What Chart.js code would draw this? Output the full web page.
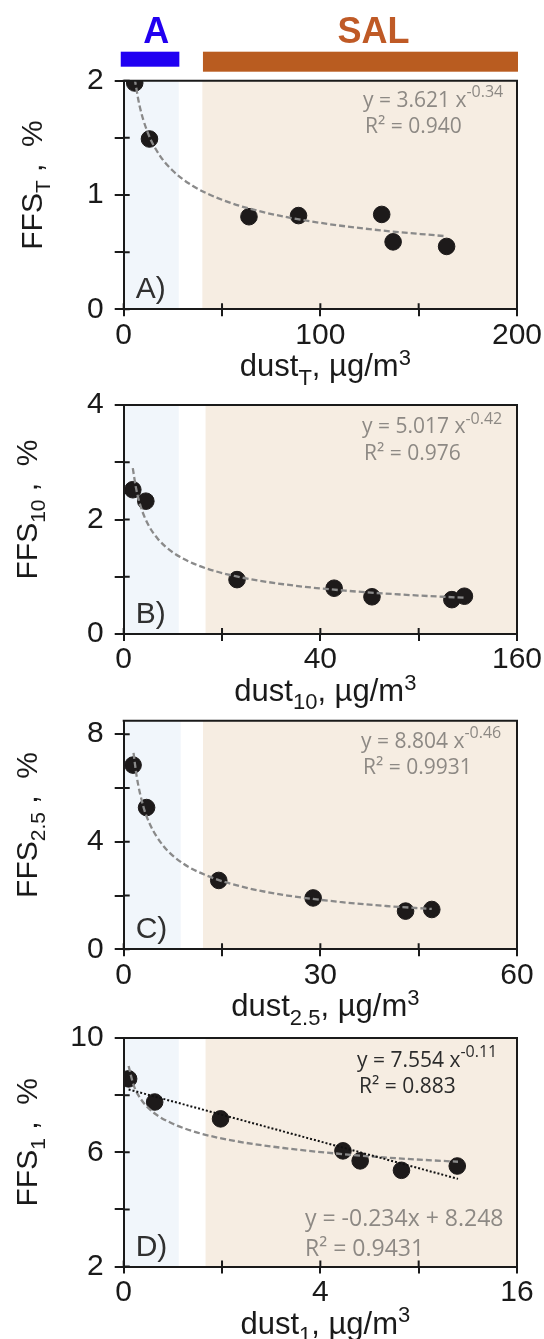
<!DOCTYPE html>
<html><head><meta charset="utf-8">
<script src="https://cdn.jsdelivr.net/npm/chart.js@4.4.1/dist/chart.umd.min.js"></script>
<style>
html,body{margin:0;padding:0;background:#fff;width:544px;height:1339px;overflow:hidden;position:relative;}
canvas{position:absolute;left:0;}
</style></head><body>
<canvas id="cA" width="544" height="400"></canvas>
<canvas id="cB" width="544" height="400"></canvas>
<canvas id="cC" width="544" height="400"></canvas>
<canvas id="cD" width="544" height="400"></canvas>
<script>
// ---------- DATA ----------
// Panel A : total dust
const dustT = [5.6, 13.1, 63.7, 88.9, 131.2, 137.0, 164.2];
const ffsT  = [1.98, 1.49, 0.81, 0.82, 0.83, 0.59, 0.55];
const fitTx = [5.6, 8, 12, 18, 25, 35, 50, 70, 95, 125, 164];
const fitTy = [2.016, 1.786, 1.556, 1.355, 1.212, 1.081, 0.958, 0.854, 0.770, 0.701, 0.639];
// Panel B : dust10
const dust10 = [3.7, 9.0, 46.1, 85.6, 101.0, 133.5, 138.6];
const ffs10  = [2.52, 2.32, 0.95, 0.80, 0.65, 0.60, 0.66];
const fit10x = [3.7, 5, 7, 10, 14, 20, 30, 45, 65, 90, 115, 139];
const fit10y = [2.897, 2.552, 2.216, 1.908, 1.657, 1.426, 1.202, 1.014, 0.869, 0.758, 0.684, 0.632];
// Panel C : dust2.5
const dust25 = [1.43, 3.49, 14.5, 28.9, 43.0, 47.0];
const ffs25  = [6.85, 5.27, 2.56, 1.91, 1.42, 1.48];
const fit25x = [1.5, 2, 3, 4, 6, 9, 13, 18, 25, 33, 40, 47];
const fit25y = [7.30, 6.40, 5.31, 4.65, 3.86, 3.20, 2.71, 2.33, 2.00, 1.76, 1.61, 1.50];
// Panel D : dust1
const dust1 = [0.20, 1.26, 3.94, 8.92, 9.62, 11.30, 13.57];
const ffs1  = [8.57, 7.76, 7.17, 6.05, 5.70, 5.37, 5.52];
const fit1x = [0.2, 0.4, 0.7, 1.2, 2, 3, 4.5, 6.5, 9, 11.5, 13.6];
const fit1y = [9.02, 8.36, 7.86, 7.40, 7.00, 6.69, 6.40, 6.15, 5.93, 5.77, 5.67];
const lin1x = [0.2, 13.6];
const lin1y = [8.20, 5.07];

// axis ranges / ticks / labels
const xTicksA = [0, 50, 100, 150, 200],  xLabelsA = ["0", "", "100", "", "200"];
const yTicksA = [0, 0.5, 1, 1.5, 2],     yLabelsA = ["0", "", "1", "", "2"];
const xTicksB = [0, 40, 80, 120, 160],   xLabelsB = ["0", "", "40", "", "160"];
const yTicksB = [0, 1, 2, 3, 4],         yLabelsB = ["0", "", "2", "", "4"];
const xTicksC = [0, 15, 30, 45, 60],     xLabelsC = ["0", "", "30", "", "60"];
const yTicksC = [0, 2, 4, 6, 8],         yLabelsC = ["0", "", "4", "", "8"];
const xTicksD = [0, 4, 8, 12, 16],       xLabelsD = ["0", "", "4", "", "16"];
const yTicksD = [2, 4, 6, 8, 10],        yLabelsD = ["2", "", "6", "", "10"];
const yMaxC = 8.5;

// shaded periods (x data units): A (blue) and SAL (tan)
const bandA_A = [0, 28],   bandSAL_A = [40, 200];
const bandA_B = [0, 22.4], bandSAL_B = [33.3, 160];
const bandA_C = [0, 8.7],  bandSAL_C = [12.1, 60];
const bandA_D = [0, 2.24], bandSAL_D = [3.33, 16];
// top period bars (panel A x units)
const barA = [-1.5, 28.3], barSAL = [40.3, 200.5];
const labelPosA = 16.5, labelPosSAL = 127;

// ---------- STYLE ----------
const AX = '"Liberation Sans", Arial, Helvetica, sans-serif';
const EQ = '"Open Sans", "Noto Sans", sans-serif';
const INK = '#1a1a1a';
const EQGRAY = '#8d8984';
const LEFT = 123.7, RIGHT = 517;
const XAXIS_H = 70, CANVAS_H = 400;

function xy(xs, ys) { return xs.map((x, i) => ({x: x, y: ys[i]})); }

const panels = [
  {id: 'cA', top: 80.7, bottom: 309.3, xr: [0, 200], yr: [0, 2], xt: xTicksA, xl: xLabelsA, yt: yTicksA, yl: yLabelsA,
   bands: [bandA_A, bandSAL_A], pts: xy(dustT, ffsT), fit: xy(fitTx, fitTy), lin: null,
   ytitle: [{t: 'FFS'}, {t: 'T', sub: 1}, {t: ' ,  %'}], ytx: 42,
   xtitle: [{t: 'dust'}, {t: 'T', sub: 1}, {t: ', µg/m'}, {t: '3', sup: 1}],
   letter: 'A)', eqs: [{x: 363, dy: 26, c: EQGRAY, p: [{t: 'y = 3.621 x'}, {t: '-0.34', sup: 1}]},
                       {x: 365, dy: 52.6, c: EQGRAY, p: [{t: 'R² = 0.940'}]}], top2: true},
  {id: 'cB', top: 405, bottom: 634, xr: [0, 160], yr: [0, 4], xt: xTicksB, xl: xLabelsB, yt: yTicksB, yl: yLabelsB,
   bands: [bandA_B, bandSAL_B], pts: xy(dust10, ffs10), fit: xy(fit10x, fit10y), lin: null,
   ytitle: [{t: 'FFS'}, {t: '10', sub: 1}, {t: ' ,  %'}], ytx: 37,
   xtitle: [{t: 'dust'}, {t: '10', sub: 1}, {t: ', µg/m'}, {t: '3', sup: 1}],
   letter: 'B)', eqs: [{x: 362, dy: 28, c: EQGRAY, p: [{t: 'y = 5.017 x'}, {t: '-0.42', sup: 1}]},
                       {x: 364, dy: 55, c: EQGRAY, p: [{t: 'R² = 0.976'}]}]},
  {id: 'cC', top: 720.7, bottom: 949.3, xr: [0, 60], yr: [0, yMaxC], xt: xTicksC, xl: xLabelsC, yt: yTicksC, yl: yLabelsC,
   bands: [bandA_C, bandSAL_C], pts: xy(dust25, ffs25), fit: xy(fit25x, fit25y), lin: null,
   ytitle: [{t: 'FFS'}, {t: '2.5', sub: 1}, {t: ' ,  %'}], ytx: 37,
   xtitle: [{t: 'dust'}, {t: '2.5', sub: 1}, {t: ', µg/m'}, {t: '3', sup: 1}],
   letter: 'C)', eqs: [{x: 361, dy: 27, c: EQGRAY, p: [{t: 'y = 8.804 x'}, {t: '-0.46', sup: 1}]},
                       {x: 363, dy: 53, c: EQGRAY, p: [{t: 'R² = 0.9931'}]}]},
  {id: 'cD', top: 1038, bottom: 1266.6, xr: [0, 16], yr: [2, 10], xt: xTicksD, xl: xLabelsD, yt: yTicksD, yl: yLabelsD,
   bands: [bandA_D, bandSAL_D], pts: xy(dust1, ffs1), fit: xy(fit1x, fit1y), lin: xy(lin1x, lin1y),
   ytitle: [{t: 'FFS'}, {t: '1', sub: 1}, {t: ' ,  %'}], ytx: 37,
   xtitle: [{t: 'dust'}, {t: '1', sub: 1}, {t: ', µg/m'}, {t: '3', sup: 1}],
   letter: 'D)', eqs: [{x: 357, dy: 28.7, c: '#2b2b2b', p: [{t: 'y = 7.554 x'}, {t: '-0.11', sup: 1}]},
                       {x: 359, dy: 55.3, c: '#2b2b2b', p: [{t: 'R² = 0.883'}]},
                       {x: 305, dy: 228.6 - 41, c: EQGRAY, big: 1, p: [{t: 'y = -0.234x + 8.248'}]},
                       {x: 305, dy: 228.6 - 11, c: EQGRAY, big: 1, p: [{t: 'R² = 0.9431'}]}]}
];

// ---------- rich text helpers ----------
function pieceFont(p, base, fam, ratio) {
  const s = (p.sub || p.sup) ? Math.round(base * ratio) : base;
  return (p.bold ? 'bold ' : '') + s + 'px ' + fam;
}
function richWidth(ctx, pieces, base, fam, ratio) {
  let w = 0;
  for (const p of pieces) { ctx.font = pieceFont(p, base, fam, ratio); w += ctx.measureText(p.t).width; }
  return w;
}
function drawRich(ctx, x, y, pieces, base, fam, ratio, supRise) {
  for (const p of pieces) {
    ctx.font = pieceFont(p, base, fam, ratio);
    const dy = p.sub ? base * 0.27 : (p.sup ? -base * supRise : 0);
    ctx.fillText(p.t, x, y + dy);
    x += ctx.measureText(p.t).width;
  }
}

function makeChart(P) {
  const canvas = document.getElementById(P.id);
  const ctop = Math.round(P.top - 80.7);
  canvas.style.top = ctop + 'px';
  const padTop = P.top - ctop;
  const plotH = P.bottom - P.top;
  const padBottom = CANVAS_H - padTop - plotH - XAXIS_H;

  const decor = {
    id: 'decor' + P.id,
    beforeDraw(chart) {
      const {ctx, chartArea: a, scales: {x}} = chart;
      ctx.save();
      const cols = ['rgb(241,246,251)', 'rgb(246,237,226)'];
      P.bands.forEach((b, i) => {
        const x0 = x.getPixelForValue(b[0]), x1 = x.getPixelForValue(b[1]);
        ctx.fillStyle = cols[i];
        ctx.fillRect(x0, a.top, x1 - x0, a.bottom - a.top);
      });
      ctx.restore();
    },
    afterDraw(chart) {
      const {ctx, chartArea: a, scales: {x, y}} = chart;
      ctx.save();
      // box top & right
      ctx.strokeStyle = INK; ctx.lineWidth = 2;
      ctx.beginPath();
      ctx.moveTo(a.left - 1, a.top); ctx.lineTo(a.right, a.top); ctx.lineTo(a.right, a.bottom + 1);
      ctx.stroke();
      // inner tick marks
      ctx.beginPath();
      x.ticks.forEach(t => { const px = x.getPixelForValue(t.value); ctx.moveTo(px, a.bottom); ctx.lineTo(px, a.bottom - 6); });
      y.ticks.forEach(t => { const py = y.getPixelForValue(t.value); ctx.moveTo(a.left, py); ctx.lineTo(a.left + 6, py); });
      ctx.stroke();
      // panel letter
      ctx.fillStyle = '#303030';
      ctx.font = '30px ' + AX;
      ctx.textAlign = 'left'; ctx.textBaseline = 'alphabetic';
      ctx.fillText(P.letter, a.left + 12, a.bottom - 11);
      // equations
      P.eqs.forEach(e => {
        ctx.fillStyle = e.c;
        drawRich(ctx, e.x, a.top + e.dy, e.p, e.big ? 23 : 21, EQ, 0.76, 0.44);
      });
      // x title
      ctx.fillStyle = INK;
      const wx = richWidth(ctx, P.xtitle, 31, AX, 0.7);
      drawRich(ctx, (a.left + a.right) / 2 + 5 - wx / 2, a.bottom + 67, P.xtitle, 31, AX, 0.7, 0.36);
      // y title (rotated)
      const wy = richWidth(ctx, P.ytitle, 30, AX, 0.7);
      ctx.translate(P.ytx, (a.top + a.bottom) / 2 - 10);
      ctx.rotate(-Math.PI / 2);
      drawRich(ctx, -wy / 2, 0, P.ytitle, 30, AX, 0.7, 0.36);
      ctx.restore();
      // period bars (panel A only)
      if (P.top2) {
        ctx.save();
        const bx0 = x.getPixelForValue(barA[0]), bx1 = x.getPixelForValue(barA[1]);
        ctx.fillStyle = '#2000f2';
        ctx.fillRect(bx0, 51.7, bx1 - bx0, 15);
        const sx0 = x.getPixelForValue(barSAL[0]), sx1 = x.getPixelForValue(barSAL[1]);
        ctx.fillStyle = '#b95c20';
        ctx.fillRect(sx0, 51.7, sx1 - sx0, 20);
        ctx.font = 'bold 36px ' + AX;
        ctx.textAlign = 'center';
        ctx.fillStyle = '#2200f0';
        ctx.fillText('A', x.getPixelForValue(labelPosA), 43.3);
        ctx.fillStyle = '#bf5a26';
        ctx.fillText('SAL', x.getPixelForValue(labelPosSAL), 43.3);
        ctx.restore();
      }
    }
  };

  const datasets = [];
  if (P.lin) datasets.push({data: P.lin, showLine: true, borderColor: '#111', borderWidth: 2, borderDash: [2, 2], pointRadius: 0, fill: false});
  datasets.push({data: P.fit, showLine: true, borderColor: '#8a8a8a', borderWidth: 2.3, borderDash: [6, 3], pointRadius: 0, fill: false, cubicInterpolationMode: 'monotone'});
  datasets.push({data: P.pts, showLine: false, pointRadius: 8.3, pointBackgroundColor: '#1d1a1a', pointBorderColor: '#1d1a1a', pointBorderWidth: 1});

  const axisCommon = (ticksArr, labels, tl, pad) => ({
    type: 'linear', bounds: 'data',
    afterBuildTicks: s => { s.ticks = ticksArr.map(v => ({value: v})); },
    ticks: {autoSkip: false, maxRotation: 0, minRotation: 0, padding: pad, color: INK,
            font: {family: AX, size: 30}, callback: (v, i) => labels[i]},
    grid: {display: true, drawOnChartArea: false, drawTicks: true, tickLength: tl, color: INK, lineWidth: 2},
    border: {display: true, color: INK, width: 2},
    title: {display: false}
  });
  const xs = Object.assign(axisCommon(P.xt, P.xl, 7, 1), {min: P.xr[0], max: P.xr[1], afterFit: s => { s.height = XAXIS_H; }});
  const ys = Object.assign(axisCommon(P.yt, P.yl, 9, 11), {min: P.yr[0], max: P.yr[1], afterFit: s => { s.width = LEFT; }});

  new Chart(canvas, {
    type: 'scatter',
    data: {datasets},
    options: {
      responsive: false, animation: false, events: [],
      layout: {padding: {left: 0, right: 544 - RIGHT, top: padTop, bottom: padBottom}},
      plugins: {legend: {display: false}, tooltip: {enabled: false}},
      scales: {x: xs, y: ys}
    },
    plugins: [decor]
  });
}

Promise.all([
  document.fonts.load('30px "Liberation Sans"'),
  document.fonts.load('bold 36px "Liberation Sans"'),
  document.fonts.load('21px "Open Sans"')
]).catch(() => {}).then(() => panels.forEach(makeChart));
</script>
</body></html>
